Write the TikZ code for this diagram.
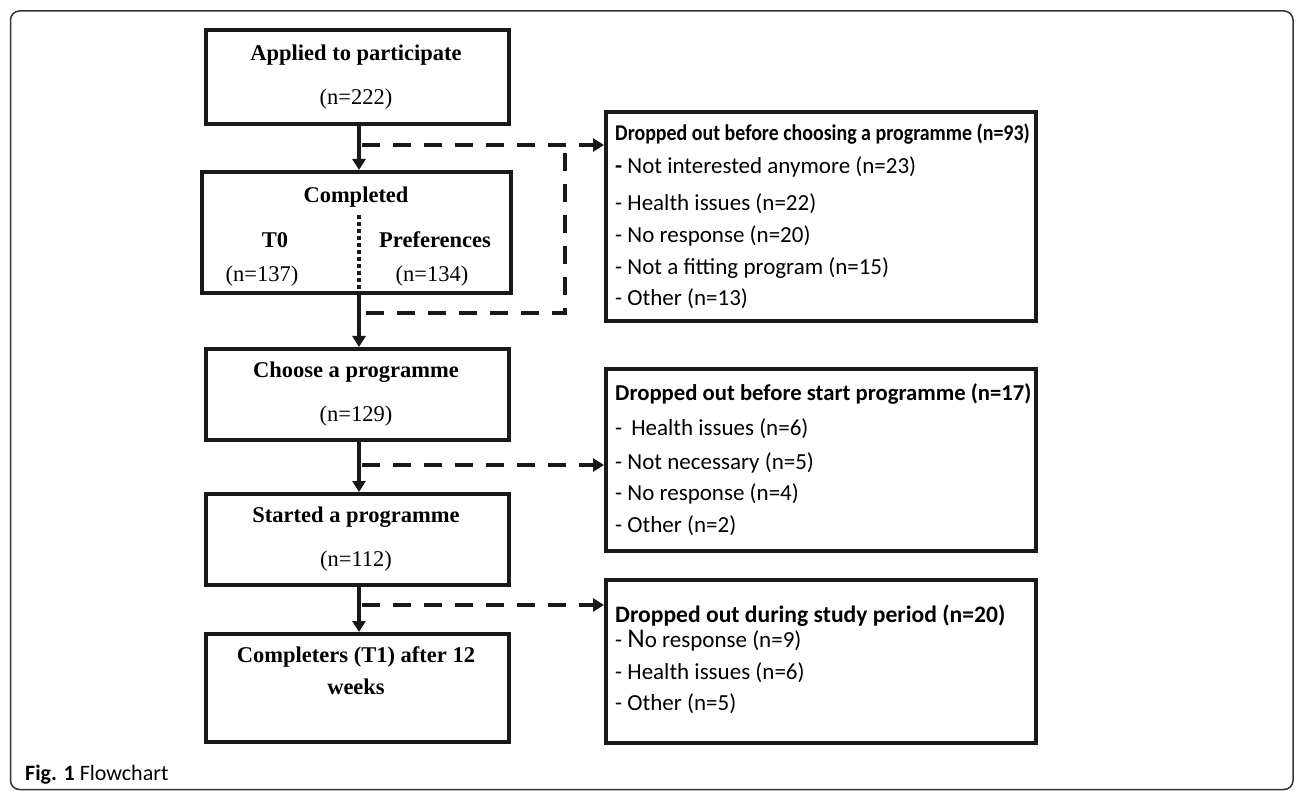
\documentclass[tikz,border=0pt]{standalone}
\usepackage{fontspec}
\usepackage{graphicx}
\setmainfont{Liberation Serif}
\newfontfamily\calfont{Carlito}
\usetikzlibrary{arrows.meta}
\tikzset{
  box/.style={draw=black!90, line width=4pt, minimum width=#1, inner sep=0pt},
  lbl/.style={font=\fontsize{22.5}{26}\selectfont\bfseries, anchor=base, inner sep=0pt},
  num/.style={font=\fontsize{22.5}{26}\selectfont, anchor=base, inner sep=0pt},
  rtitle/.style={font=\calfont\fontsize{#1}{27}\selectfont\bfseries, anchor=base west, inner sep=0pt},
  ritem/.style={font=\calfont\fontsize{23}{27}\selectfont, anchor=base west, inner sep=0pt},
  solidarr/.style={line width=4pt, draw=black!90, -{Triangle[length=11pt,width=13pt]}},
  dasharr/.style={line width=4pt, draw=black!90, dash pattern=on 18pt off 13pt, -{Triangle[length=11pt,width=13pt]}},
  dashln/.style={line width=4pt, draw=black!90, dash pattern=on 18pt off 13pt},
  dotln/.style={line width=3.5pt, draw=black!90, dash pattern=on 4pt off 3pt},
  frame/.style={draw=black!80, line width=1.5pt, rounded corners=9pt}
}
\begin{document}
\begin{tikzpicture}[x=1pt,y=-1pt]
\useasboundingbox (0,0) rectangle (1296,791);
\draw[frame] (10.5,11) rectangle (1293,789.5);

% left boxes
\node[box=303pt, minimum height=94pt] (b1) at (357.5,77) {};
\node[box=309pt, minimum height=121pt] (b2) at (356.5,232.5) {};
\node[box=303pt, minimum height=91pt] (b3) at (357.5,394.5) {};
\node[box=303pt, minimum height=91pt] (b4) at (357.5,539.5) {};
\node[box=303pt, minimum height=108pt] (b5) at (357.5,688) {};

% right boxes
\node[box=430pt, minimum height=209pt] (rA) at (821,216.5) {};
\node[box=430pt, minimum height=182pt] (rB) at (821,460) {};
\node[box=430pt, minimum height=163pt] (rC) at (821,661.5) {};

% left texts
\node[lbl] (t1a) at (356,60.4) {Applied to participate};
\node[num] (t1b) at (356,104.5) {(n=222)};
\node[lbl] (t2a) at (356,202.4) {Completed};
\node[lbl] (t2b) at (275,247.4) {T0};
\node[lbl] (t2c) at (435,247.4) {Preferences};
\node[num] (t2d) at (262,281.5) {(n=137)};
\node[num] (t2e) at (432,281.5) {(n=134)};
\node[lbl] (t3a) at (356,377.4) {Choose a programme};
\node[num] (t3b) at (356,421.5) {(n=129)};
\node[lbl] (t4a) at (356,522.4) {Started a programme};
\node[num] (t4b) at (356,566.5) {(n=112)};
\node[lbl] (t5a) at (356,662.4) {Completers (T1) after 12};
\node[lbl] (t5b) at (356,694.4) {weeks};

% right texts
\node[rtitle=22.5] (ra0) at (615,140.4) {\scalebox{0.885}[1]{Dropped out before choosing a programme (n=93)}};
\node[ritem] (ra1) at (615,173.4) {\textbf{-} Not interested anymore (n=23)};
\node[ritem] (ra2) at (615,210.4) {- Health issues (n=22)};
\node[ritem] (ra3) at (615,242.4) {- No response (n=20)};
\node[ritem] (ra4) at (615,274.4) {- Not a fitting program (n=15)};
\node[ritem] (ra5) at (615,305.4) {- Other (n=13)};

\node[rtitle=22.7] (rb0) at (615,400.4) {Dropped out before start programme (n=17)};
\node[ritem] (rb1) at (615,435.4) {-\, Health issues (n=6)};
\node[ritem] (rb2) at (615,469.4) {- Not necessary (n=5)};
\node[ritem] (rb3) at (615,500.4) {- No response (n=4)};
\node[ritem] (rb4) at (615,532.4) {- Other (n=2)};

\node[rtitle=23.6] (rc0) at (615,622) {Dropped out during study period (n=20)};
\node[ritem] (rc1) at (615,647.4) {- {\fontsize{27}{27}\selectfont N}o response (n=9)};
\node[ritem] (rc2) at (615,679.4) {- Health issues (n=6)};
\node[ritem] (rc3) at (615,710.4) {- Other (n=5)};

% caption
\node[anchor=base west, inner sep=0pt, font=\calfont\fontsize{22}{26}\selectfont] (cap) at (25,780) {\textbf{Fig. 1} Flowchart};

% spine coordinates
\coordinate (sp) at (359,0);
\coordinate (jA) at (359,145);
\coordinate (jB) at (359,465);
\coordinate (jC) at (359,605);
\coordinate (lA) at (565,147);
\coordinate (lB) at (565,313);
\coordinate (lC) at (361,313);

% solid arrows
\draw[solidarr] (b1.south -| sp) -- (b2.north -| sp);
\draw[solidarr] (b2.south -| sp) -- (b3.north -| sp);
\draw[solidarr] (b3.south -| sp) -- (b4.north -| sp);
\draw[solidarr] (b4.south -| sp) -- (b5.north -| sp);

% dotted divider
\coordinate (dv) at (359,215);
\draw[dotln] (dv) -- (dv |- b2.south);

% dashed arrows
\draw[dasharr] ([xshift=3pt]jA) -- (jA -| rA.west);
\draw[dasharr] ([xshift=3pt]jB) -- (jB -| rB.west);
\draw[dasharr] ([xshift=3pt]jC) -- (jC -| rC.west);
\draw[dashln] (lA) ++(0,6) -- (lB) -- (lC);
\end{tikzpicture}
\end{document}
